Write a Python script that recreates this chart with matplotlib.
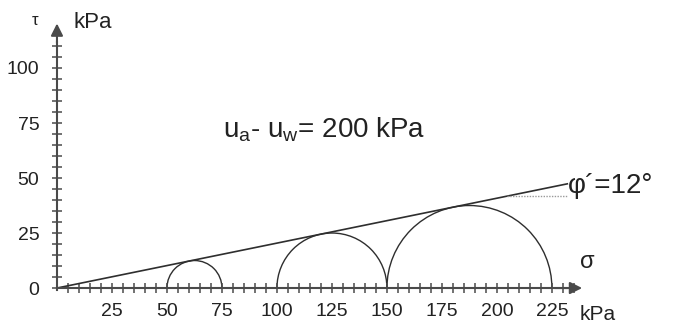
import numpy as np
import matplotlib
matplotlib.use("Agg")
import matplotlib.pyplot as plt
from matplotlib.ticker import FixedLocator
from matplotlib.patches import Arc

plt.rcParams['font.family'] = ['Liberation Sans', 'DejaVu Sans']
plt.rcParams['mathtext.fontset'] = 'custom'
plt.rcParams['mathtext.rm'] = 'Liberation Sans'

# Mohr circles: (sigma_3, sigma_1) in kPa
sigma3 = [50, 100, 150]
sigma1 = [75, 150, 225]

x_major = [25, 50, 75, 100, 125, 150, 175, 200, 225]
y_major = [0, 25, 50, 75, 100]
x_minor = list(range(5, 240, 5))
y_minor = list(range(5, 120, 5))

sigma_end = 232        # end of failure envelope
phi_ref_start = 204.5  # start of the dotted horizontal reference line

axis_col = '#4a4a4a'
line_col = '#2e2e2e'
text_col = '#222222'

fig = plt.figure(figsize=(6.74, 3.25), dpi=100)
ax = fig.add_axes([0, 0, 1, 1])
ax.set_xlim(-25.9, 280.5)
ax.set_ylim(-16.8, 130.9)

for s in ['top', 'right']:
    ax.spines[s].set_visible(False)
ax.spines['left'].set_position(('data', 0))
ax.spines['bottom'].set_position(('data', 0))
ax.spines['left'].set_bounds(-1, 112)
ax.spines['bottom'].set_bounds(0, 232)
for s in ['left', 'bottom']:
    ax.spines[s].set_color(axis_col)
    ax.spines[s].set_linewidth(1.5)

ax.xaxis.set_major_locator(FixedLocator(x_major))
ax.yaxis.set_major_locator(FixedLocator(y_major))
ax.xaxis.set_minor_locator(FixedLocator(x_minor))
ax.yaxis.set_minor_locator(FixedLocator(y_minor))
ax.set_xticklabels([str(v) for v in x_major])
ax.set_yticklabels([str(v) for v in y_major])
ax.tick_params(which='both', direction='inout', length=7.5, width=1.1, color=axis_col)
ax.tick_params(axis='x', which='major', labelsize=14, pad=7, labelcolor=text_col)
ax.tick_params(axis='y', which='major', labelsize=14, pad=9, labelcolor=text_col)

# axis arrows
ax.annotate('', xy=(240, 0), xytext=(225, 0),
            arrowprops=dict(arrowstyle='-|>', color=axis_col, lw=1.5, mutation_scale=18))
ax.annotate('', xy=(0, 121.5), xytext=(0, 110),
            arrowprops=dict(arrowstyle='-|>', color=axis_col, lw=1.5, mutation_scale=18))

# Mohr circles (upper halves)
for s3, s1 in zip(sigma3, sigma1):
    c = (s1 + s3) / 2
    r = (s1 - s3) / 2
    ax.add_patch(Arc((c, 0), 2 * r, 2 * r, theta1=0, theta2=180,
                     color=line_col, lw=1.0))

# failure envelope tangent to circles
ratio = (sigma1[0] - sigma3[0]) / (sigma1[0] + sigma3[0])
slope = np.tan(np.arcsin(ratio))
xs = np.array([0, sigma_end])
ax.plot(xs, slope * xs, color=line_col, lw=1.2)
ax.plot([phi_ref_start, sigma_end], [slope * phi_ref_start] * 2,
        color='#999999', lw=1.0, ls=(0, (1, 1)))

# labels
ax.text(75.5, 68.2, r'$\mathregular{u_a}$- $\mathregular{u_w}$= 200 kPa',
        fontsize=20, va='baseline', ha='left', color=text_col)
ax.text(232.3, 43.2, 'φ´=12°', fontsize=20, va='baseline', ha='left', color=text_col)
ax.text(241, 11.8, 'σ', fontsize=17, va='center', ha='center', color=text_col)
ax.text(237.5, -14.6, 'kPa', fontsize=15, va='baseline', ha='left', color=text_col)
ax.text(7.7, 118, 'kPa', fontsize=16, va='baseline', ha='left', color=text_col)
ax.text(-10, 121.5, 'τ', fontsize=12, va='center', ha='center', color=text_col)

fig.savefig('out.png', dpi=100)
